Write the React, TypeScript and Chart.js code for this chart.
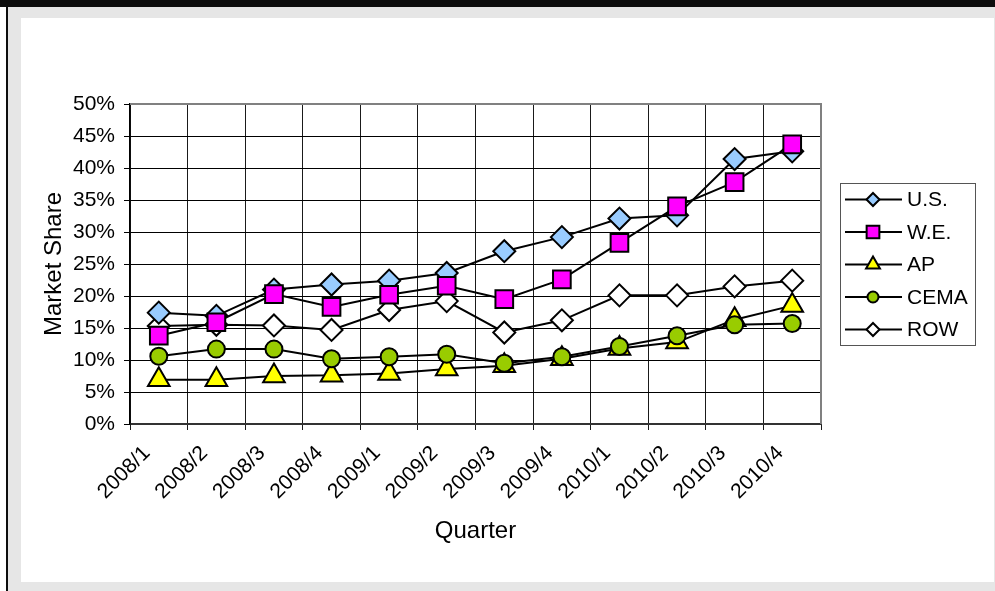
import React, { useEffect, useRef } from 'react';
import { Chart, registerables } from 'chart.js';

Chart.register(...registerables);

const FONT = "'Liberation Sans', Arial, Helvetica, sans-serif";

// Quarterly market share (%) by region
const quarters = ['2008/1', '2008/2', '2008/3', '2008/4', '2009/1', '2009/2', '2009/3', '2009/4', '2010/1', '2010/2', '2010/3', '2010/4'];
const usShare = [17.4, 16.9, 21.0, 21.8, 22.4, 23.6, 27.0, 29.2, 32.1, 32.6, 41.4, 42.6];
const weShare = [13.8, 15.9, 20.3, 18.3, 20.2, 21.6, 19.5, 22.6, 28.3, 34.0, 37.8, 43.7];
const apShare = [6.9, 6.9, 7.5, 7.6, 7.9, 8.6, 9.1, 10.2, 11.8, 12.8, 16.3, 18.5];
const cemaShare = [10.6, 11.7, 11.7, 10.2, 10.5, 10.9, 9.5, 10.5, 12.1, 13.8, 15.5, 15.7];
const rowShare = [15.3, 15.5, 15.4, 14.7, 17.8, 19.2, 14.3, 16.2, 20.1, 20.1, 21.5, 22.4];

const yTicks = [0, 5, 10, 15, 20, 25, 30, 35, 40, 45, 50];

type Shape = 'rectRot' | 'rect' | 'triangle' | 'circle';

interface Series {
  name: string;
  values: number[];
  shape: Shape;
  fill: string;
  radius: number;
  legendRadius: number;
  layer: number; // lower layer is painted on top
}

const series: Series[] = [
  { name: 'U.S.', values: usShare, shape: 'rectRot', fill: '#99ccff', radius: 11, legendRadius: 6.5, layer: 4 },
  { name: 'W.E.', values: weShare, shape: 'rect', fill: '#ff00ff', radius: 12.5, legendRadius: 9, layer: 3 },
  { name: 'AP', values: apShare, shape: 'triangle', fill: '#ffff00', radius: 12.5, legendRadius: 8, layer: 2 },
  { name: 'CEMA', values: cemaShare, shape: 'circle', fill: '#99cc00', radius: 8.5, legendRadius: 5.5, layer: 1 },
  { name: 'ROW', values: rowShare, shape: 'rectRot', fill: '#ffffff', radius: 11, legendRadius: 6.5, layer: 5 },
];

function tracePoint(ctx: CanvasRenderingContext2D, shape: Shape, x: number, y: number, r: number) {
  ctx.beginPath();
  if (shape === 'circle') {
    ctx.arc(x, y, r, 0, Math.PI * 2);
  } else if (shape === 'rect') {
    const s = Math.SQRT1_2 * r;
    ctx.rect(x - s, y - s, 2 * s, 2 * s);
  } else if (shape === 'rectRot') {
    ctx.moveTo(x, y - r);
    ctx.lineTo(x + r, y);
    ctx.lineTo(x, y + r);
    ctx.lineTo(x - r, y);
  } else {
    const h = Math.cos(Math.PI / 6) * r;
    ctx.moveTo(x, y - r);
    ctx.lineTo(x + h, y + r / 2);
    ctx.lineTo(x - h, y + r / 2);
  }
  ctx.closePath();
}

// Boxed legend on the right: line + marker + name per series
const boxLegend = {
  id: 'boxLegend',
  afterDraw(chart: Chart) {
    const ctx = chart.ctx;
    ctx.save();
    ctx.strokeStyle = '#555555';
    ctx.lineWidth = 1;
    ctx.strokeRect(840.5, 183.5, 135, 162);
    ctx.font = `21px ${FONT}`;
    ctx.textBaseline = 'middle';
    ctx.textAlign = 'left';
    series.forEach((s, i) => {
      const y = 199.5 + i * 32.5;
      ctx.strokeStyle = '#000';
      ctx.lineWidth = 2;
      ctx.beginPath();
      ctx.moveTo(845, y);
      ctx.lineTo(902, y);
      ctx.stroke();
      tracePoint(ctx, s.shape, 873, y, s.legendRadius);
      ctx.fillStyle = s.fill;
      ctx.fill();
      ctx.lineWidth = 2;
      ctx.stroke();
      ctx.fillStyle = '#000';
      ctx.fillText(s.name, 907, y + 1);
    });
    ctx.restore();
  },
};

// Gray frame on the top and right edges of the plot area
const plotFrame = {
  id: 'plotFrame',
  beforeDatasetsDraw(chart: Chart) {
    const { ctx, chartArea } = chart;
    ctx.save();
    ctx.strokeStyle = '#808080';
    ctx.lineWidth = 2;
    ctx.beginPath();
    ctx.moveTo(chartArea.left, chartArea.top);
    ctx.lineTo(chartArea.right, chartArea.top);
    ctx.lineTo(chartArea.right, chartArea.bottom);
    ctx.stroke();
    ctx.restore();
  },
};

export default function App() {
  const canvasRef = useRef<HTMLCanvasElement | null>(null);

  useEffect(() => {
    const canvas = canvasRef.current;
    if (!canvas) return;

    const lineSets = series.map((s) => ({
      label: s.name,
      data: s.values,
      borderColor: '#000000',
      borderWidth: 2,
      pointRadius: 0,
      tension: 0,
      fill: false,
      order: 20,
    }));
    const markerSets = series.map((s) => ({
      label: s.name + ' markers',
      data: s.values,
      showLine: false,
      pointStyle: s.shape,
      pointRadius: s.radius,
      pointBackgroundColor: s.fill,
      pointBorderColor: '#000000',
      pointBorderWidth: 2,
      order: s.layer,
    }));

    const chart = new Chart(canvas, {
      type: 'line',
      data: { labels: quarters, datasets: [...lineSets, ...markerSets] as any },
      options: {
        animation: false,
        responsive: false,
        events: [],
        layout: { padding: { left: 0, top: 104, right: 174, bottom: 0 } },
        plugins: { legend: { display: false }, tooltip: { enabled: false }, title: { display: false } },
        scales: {
          x: {
            type: 'category',
            offset: true,
            grid: { offset: true, color: '#1a1a1a', lineWidth: 1, tickLength: 6, tickColor: '#1a1a1a', drawTicks: true },
            border: { color: '#333333', width: 2 },
            ticks: {
              autoSkip: false,
              minRotation: 45,
              maxRotation: 45,
              padding: 11,
              labelOffset: -12,
              color: '#000',
              font: { family: FONT, size: 21 },
            },
            title: {
              display: true,
              text: 'Quarter',
              color: '#000',
              font: { family: FONT, size: 24 },
              padding: { top: 0, bottom: 45.6 },
            },
            afterFit: (scale: any) => {
              scale.height = 167;
            },
          },
          y: {
            min: 0,
            max: 50,
            afterBuildTicks: (scale: any) => {
              scale.ticks = yTicks.map((v) => ({ value: v }));
            },
            grid: { color: '#000', lineWidth: 1, tickLength: 6, tickColor: '#000' },
            border: { color: '#000', width: 1.5 },
            ticks: {
              padding: 9,
              color: '#000',
              font: { family: FONT, size: 21 },
              callback: (v: any) => `${v}%`,
            },
            title: {
              display: true,
              text: 'Market Share',
              color: '#000',
              font: { family: FONT, size: 24 },
              padding: { top: 39.6, bottom: 0 },
            },
            afterFit: (scale: any) => {
              scale.width = 130;
            },
          },
        },
      },
      plugins: [plotFrame, boxLegend],
    });

    return () => chart.destroy();
  }, []);

  const abs = (l: number, t: number, w: number, h: number, bg: string): React.CSSProperties => ({
    position: 'absolute', left: l, top: t, width: w, height: h, background: bg,
  });

  return (
    <div style={{ position: 'fixed', left: 0, top: 0, width: 995, height: 591, background: '#ffffff', overflow: 'hidden' }}>
      <div style={abs(0, 0, 995, 7, '#0d0d0d')} />
      <div style={abs(6, 7, 2, 584, '#0d0d0d')} />
      <div style={abs(8, 7, 987, 584, '#e6e6e6')} />
      <div style={abs(21, 18, 973, 564, '#ffffff')} />
      <canvas ref={canvasRef} width={995} height={591} style={{ position: 'absolute', left: 0, top: 0 }} />
    </div>
  );
}
